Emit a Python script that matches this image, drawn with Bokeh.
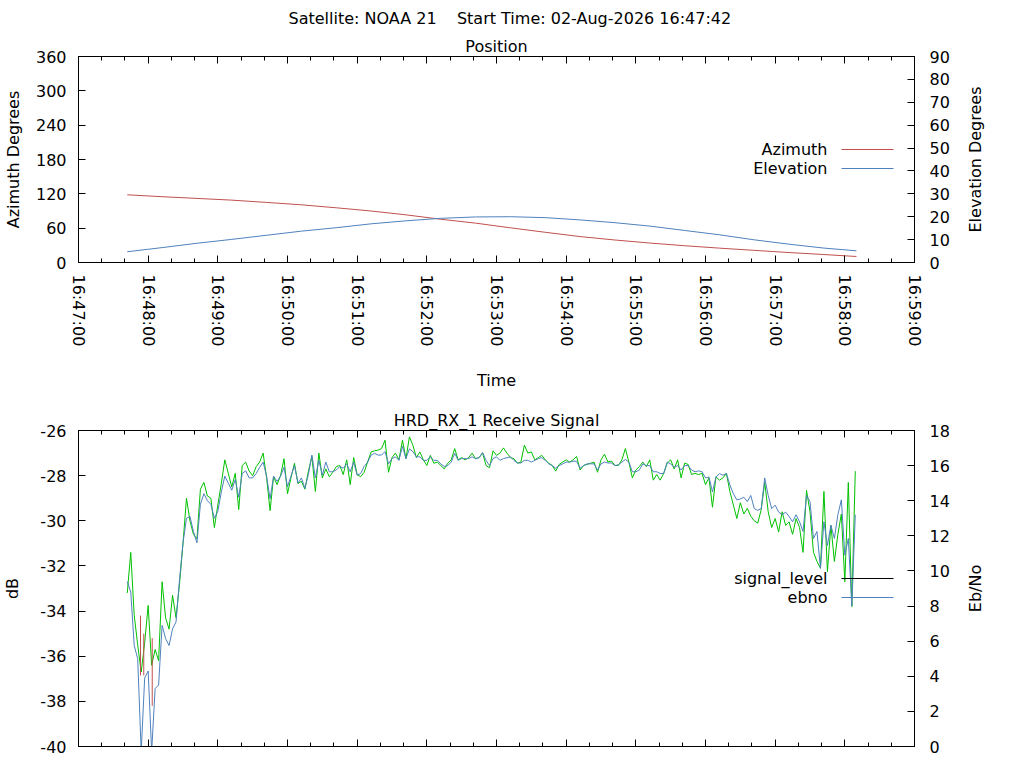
import math
import numpy as np
import pandas as pd
from bokeh.plotting import figure
from bokeh.models import (Range1d, LinearAxis, DatetimeAxis, FixedTicker, Title, Label, Arrow,
                          CustomJSTickFormatter, DatetimeTickFormatter, ColumnDataSource)
from bokeh.layouts import column, row
from bokeh.embed import file_html
from bokeh.resources import INLINE

# ---------------- data ----------------
DAY = "2026-08-02"
main_title = "Satellite: NOAA 21\u00a0\u00a0\u00a0\u00a0Start Time: 02-Aug-2026 16:47:42"
pos_title = "Position"
sig_title = "HRD_RX_1 Receive Signal"

axis_start = "16:47:00"
axis_end = "16:59:00"
tick_labels = ["16:47:00", "16:48:00", "16:49:00", "16:50:00", "16:51:00", "16:52:00", "16:53:00",
               "16:54:00", "16:55:00", "16:56:00", "16:57:00", "16:58:00", "16:59:00"]

az_ticks = [0, 60, 120, 180, 240, 300, 360]
el_ticks = [0, 10, 20, 30, 40, 50, 60, 70, 80, 90]
db_ticks = [-40, -38, -36, -34, -32, -30, -28, -26]
ebno_ticks = [0, 2, 4, 6, 8, 10, 12, 14, 16, 18]

pos_times = ["16:47:42", "16:48:12", "16:48:42", "16:49:12", "16:49:42", "16:50:12", "16:50:42",
             "16:51:12", "16:51:42", "16:52:12", "16:52:42", "16:53:12", "16:53:42", "16:54:12",
             "16:54:42", "16:55:12", "16:55:42", "16:56:12", "16:56:42", "16:57:12", "16:57:42",
             "16:58:10"]
azimuth = [118.3, 115.0, 112.0, 109.0, 105.0, 100.8, 95.6, 90.0, 83.3, 75.6, 68.8, 60.6,
           52.8, 45.3, 39.3, 34.0, 29.3, 25.1, 21.2, 17.4, 13.9, 10.5]
elevation = [4.7, 6.5, 8.4, 10.1, 11.9, 13.7, 15.2, 16.9, 18.2, 19.3, 19.9, 20.0,
             19.6, 18.6, 17.4, 15.9, 14.0, 12.1, 9.9, 8.0, 6.3, 5.1]

signal_start = "16:47:42"
signal_step_s = 3
signal_level = [
    -33.2, -31.4, -34.2, -35.5, -36.7, -35.4, -33.75, -36.4, -35.7, -36.2,
    -32.7, -34.3, -34.8, -33.3, -34.3, -32.8, -31.0, -29.0, -30.0, -30.6,
    -30.8, -28.6, -28.3, -28.9, -29.0, -30.3, -29.3, -28.35, -27.3, -27.9,
    -28.5, -27.9, -29.5, -27.55, -27.4, -27.8, -28.0, -27.6, -27.4, -27.0,
    -28.1, -29.55, -28.05, -28.4, -28.0, -27.25, -28.8, -28.1, -27.45, -28.35,
    -28.25, -28.6, -27.8, -27.15, -28.7, -27.0, -28.1, -27.7, -28.05, -27.85,
    -27.6, -27.55, -27.95, -27.3, -28.4, -27.2, -27.95, -28.05, -27.85, -27.4,
    -26.95, -26.9, -26.87, -26.8, -26.43, -27.85, -27.2, -27.0, -27.3, -26.43,
    -27.25, -26.28, -26.65, -27.2, -26.95, -27.3, -27.55, -27.1, -27.45, -27.4,
    -27.55, -27.7, -27.45, -27.3, -26.8, -27.3, -27.2, -27.3, -27.2, -27.0,
    -27.25, -27.2, -27.0, -27.55, -27.65, -26.9, -27.1, -27.0, -26.77, -27.0,
    -27.2, -27.25, -27.45, -27.4, -26.65, -27.0, -26.95, -27.3, -27.2, -27.1,
    -27.3, -27.45, -27.55, -27.8, -27.5, -27.4, -27.3, -27.4, -27.3, -27.15,
    -27.75, -27.55, -27.5, -27.45, -27.4, -27.85, -27.3, -27.05, -27.4, -27.35,
    -27.55, -27.55, -27.3, -26.8, -27.4, -28.1, -27.75, -27.6, -27.4, -27.6,
    -27.3, -28.2, -27.95, -28.2, -27.9, -27.45, -27.3, -27.7, -27.3, -28.1,
    -27.45, -27.5, -27.95, -27.9, -27.95, -27.9, -28.4, -28.1, -29.4, -28.05,
    -28.2, -28.1, -27.9, -28.7, -29.3, -29.9, -29.2, -29.7, -29.45, -29.8,
    -30.0, -30.1, -29.5, -28.3, -29.6, -30.3, -29.9, -30.5, -29.6, -30.2,
    -30.05, -30.6, -29.9, -30.3, -31.4, -28.65, -29.6, -31.4, -31.8, -32.1,
    -28.7, -32.25, -30.2, -31.8, -30.6, -29.7, -32.7, -28.3, -33.8, -27.8,
]
ebno = [
    9.4, 8.8, 5.75, 5.0, -0.3, 3.9, 4.3, -0.3, 3.3, 3.5,
    6.9, 6.15, 5.75, 6.7, 7.1, 9.5, 11.6, 13.0, 13.1, 12.25,
    11.6, 13.8, 14.4, 14.0, 13.8, 13.0, 13.4, 14.5, 15.4, 15.0,
    14.6, 15.2, 14.2, 15.55, 15.7, 15.3, 15.3, 15.55, 15.9, 16.2,
    15.4, 14.1, 15.4, 15.1, 15.4, 15.9, 14.8, 15.4, 16.0, 15.0,
    15.3, 14.7, 15.5, 16.6, 15.3, 16.3, 15.45, 16.2, 15.65, 15.65,
    15.75, 15.95, 15.85, 16.1, 15.65, 16.2, 15.45, 15.55, 15.95, 16.2,
    16.6, 16.7, 16.6, 16.6, 16.8, 16.1, 16.4, 16.5, 16.3, 17.1,
    16.4, 16.95, 16.8, 16.5, 16.5, 16.3, 16.3, 16.5, 16.3, 16.3,
    16.1, 15.95, 16.0, 16.2, 16.7, 16.3, 16.4, 16.4, 16.4, 16.5,
    16.4, 16.45, 16.75, 16.3, 16.0, 16.4, 16.5, 16.3, 16.4, 16.45,
    16.5, 16.3, 16.15, 16.15, 16.3, 16.3, 16.2, 16.3, 16.4, 16.45,
    16.3, 16.1, 16.0, 15.85, 16.0, 16.1, 16.2, 16.2, 16.25, 16.25,
    15.85, 16.0, 16.1, 16.1, 16.1, 15.75, 16.1, 16.2, 16.15, 16.15,
    16.0, 16.05, 16.2, 16.35, 16.2, 15.65, 15.65, 15.75, 16.1, 16.0,
    16.0, 15.65, 15.65, 15.55, 15.55, 16.2, 16.1, 15.9, 16.0, 15.75,
    16.0, 16.0, 15.75, 15.65, 15.7, 15.65, 15.3, 15.35, 14.5, 15.35,
    15.55, 15.45, 15.55, 14.9, 14.4, 14.05, 14.1, 14.2, 13.95, 14.3,
    13.55, 13.45, 13.55, 15.3, 14.3, 13.55, 13.75, 13.35, 13.2, 13.35,
    13.1, 12.8, 13.2, 12.8, 12.25, 14.3, 13.95, 11.85, 12.25, 10.15,
    12.8, 11.45, 12.6, 11.85, 13.2, 14.05, 10.9, 11.85, 8.0, 13.2,
]
# short red strokes of the signal level in the fade
red_times = ["16:47:53.4", "16:47:56.2", "16:48:03.5"]
red_low = [-36.85, -36.85, -38.2]
red_high = [-34.2, -35.0, -35.2]

# ---------------- styling ----------------
FONT = "DejaVu Sans"
FS = "16px"
RED = "#C0504D"
BLUE = "#4F81BD"
GREEN = "#00C000"
FRAME_W = 836
BORDER_L = 78
BORDER_R = 48


def ts(t):
    return pd.Timestamp(f"{DAY} {t}")


def ms(t):
    return ts(t).value / 1e6


t0, t1 = ts(axis_start), ts(axis_end)
major_ms = [ms(t) for t in tick_labels]
minor_ms = [d.value / 1e6 for d in pd.date_range(t0, t1, freq="20s")]

fmt = "%H:%M:%S"
time_fmt = DatetimeTickFormatter(microseconds=fmt, milliseconds=fmt, seconds=fmt, minsec=fmt,
                                 minutes=fmt, hourmin=fmt, hours=fmt, days=fmt, months=fmt, years=fmt)
blank = CustomJSTickFormatter(code="return ''")
plain = CustomJSTickFormatter(code="return tick.toString()")


def style_axis(ax, tick_standoff=12, label=None, label_standoff=10):
    ax.major_tick_in = 7
    ax.major_tick_out = 0
    ax.minor_tick_in = 4
    ax.minor_tick_out = 0
    ax.major_tick_line_color = "black"
    ax.minor_tick_line_color = "black"
    ax.axis_line_color = "black"
    ax.major_label_text_font = FONT
    ax.major_label_text_font_size = FS
    ax.major_label_text_color = "black"
    ax.major_label_standoff = tick_standoff
    if label is not None:
        ax.axis_label = label
        ax.axis_label_text_font = FONT
        ax.axis_label_text_font_size = FS
        ax.axis_label_text_font_style = "normal"
        ax.axis_label_text_color = "black"
        ax.axis_label_standoff = label_standoff


def make_title(s, standoff, align="center", offset=0):
    return Title(text=s, align=align, offset=offset, text_font=FONT, text_font_size=FS,
                 text_font_style="normal", text_color="black", standoff=standoff)


def legend_entry(p, s, color, y):
    p.add_layout(Label(x=749, y=y, x_units="screen", y_units="screen", text=s,
                       text_align="right", text_baseline="middle", text_font=FONT,
                       text_font_size=FS, text_color="black"))
    p.add_layout(Arrow(start=None, end=None, x_start=763, y_start=y, x_end=815, y_end=y,
                       start_units="screen", end_units="screen", line_color=color, line_width=1))


def base_fig(y0, y1, fh, top, bottom):
    p = figure(x_axis_type="datetime", frame_width=FRAME_W, frame_height=fh,
               x_range=Range1d(t0, t1), y_range=Range1d(y0, y1),
               min_border_left=BORDER_L, min_border_right=BORDER_R,
               min_border_top=top, min_border_bottom=bottom,
               output_backend="svg", toolbar_location=None)
    p.xgrid.visible = False
    p.ygrid.visible = False
    p.outline_line_color = "black"
    p.outline_line_width = 1
    p.background_fill_color = "white"
    p.border_fill_color = "white"
    return p


def side_label(s, fh, top, bottom):
    """Right-hand axis title, reading bottom-to-top like the left one."""
    q = figure(frame_width=1, frame_height=fh, x_range=Range1d(0, 1), y_range=Range1d(0, 1),
               x_axis_location=None, min_border_left=0, min_border_right=0,
               min_border_top=top, min_border_bottom=bottom,
               output_backend="svg", toolbar_location=None)
    q.xgrid.visible = False
    q.ygrid.visible = False
    q.outline_line_color = None
    q.background_fill_color = None
    q.border_fill_color = "white"
    ax = q.yaxis[0]
    ax.ticker = FixedTicker(ticks=[])
    ax.formatter = blank
    ax.major_tick_in = 0
    ax.major_tick_out = 0
    ax.minor_tick_in = 0
    ax.minor_tick_out = 0
    ax.major_label_standoff = 0
    ax.axis_line_color = None
    ax.axis_label = s
    ax.axis_label_text_font = FONT
    ax.axis_label_text_font_size = FS
    ax.axis_label_text_font_style = "normal"
    ax.axis_label_text_color = "black"
    ax.axis_label_standoff = 0
    return q


def frame_axes(p, right_range, right_ticks, left_ticks, bottom_fmt, left_label,
               left_label_standoff, x_label=None):
    xa = p.xaxis[0]
    xa.ticker = FixedTicker(ticks=major_ms, minor_ticks=minor_ms)
    xa.formatter = bottom_fmt
    if x_label is None:
        style_axis(xa, tick_standoff=0)
    else:
        style_axis(xa, tick_standoff=12, label=x_label, label_standoff=22)

    ya = p.yaxis[0]
    ya.ticker = FixedTicker(ticks=left_ticks)
    ya.formatter = plain
    style_axis(ya, tick_standoff=12, label=left_label, label_standoff=left_label_standoff)

    ra = LinearAxis(y_range_name=right_range, ticker=FixedTicker(ticks=right_ticks), formatter=plain)
    style_axis(ra, tick_standoff=15)
    p.add_layout(ra, "right")

    ta = DatetimeAxis(ticker=FixedTicker(ticks=major_ms, minor_ticks=minor_ms), formatter=blank)
    style_axis(ta, tick_standoff=0)
    p.add_layout(ta, "above")
    return xa


# ---------------- position plot ----------------
H1 = 206
p1 = base_fig(0, 360, H1, 56, 136)
p1.extra_y_ranges = {"el": Range1d(0, 90)}
xa = frame_axes(p1, "el", el_ticks, az_ticks, time_fmt, "Azimuth Degrees", 10, x_label="Time")
xa.major_label_orientation = -math.pi / 2
p1.add_layout(make_title(pos_title, 2), "above")
p1.add_layout(make_title(main_title, 11, align="left", offset=210), "above")

pos_src = ColumnDataSource(dict(t=[ts(t) for t in pos_times], az=azimuth, el=elevation))
p1.line("t", "az", source=pos_src, line_color=RED, line_width=1)
p1.line("t", "el", source=pos_src, y_range_name="el", line_color=BLUE, line_width=1)
legend_entry(p1, "Azimuth", RED, 113)
legend_entry(p1, "Elevation", BLUE, 94)
s1 = side_label("Elevation Degrees", H1, 56, 136)

# ---------------- signal plot ----------------
H2 = 316
p2 = base_fig(-40, -26, H2, 32, 10)
p2.extra_y_ranges = {"ebno": Range1d(0, 18)}
frame_axes(p2, "ebno", ebno_ticks, db_ticks, blank, "dB", 15)
p2.add_layout(make_title(sig_title, 2), "above")

n = len(signal_level)
sig_t = ts(signal_start) + pd.to_timedelta(np.arange(n) * signal_step_s, unit="s")
sig_src = ColumnDataSource(dict(t=sig_t, lvl=signal_level, eb=ebno[:n]))
p2.line("t", "lvl", source=sig_src, line_color=GREEN, line_width=1)
red_src = ColumnDataSource(dict(t=[ts(t) for t in red_times], lo=red_low, hi=red_high))
p2.segment(x0="t", y0="lo", x1="t", y1="hi", source=red_src, line_color=RED, line_width=1)
p2.line("t", "eb", source=sig_src, y_range_name="ebno", line_color=BLUE, line_width=1)
legend_entry(p2, "signal_level", "black", 168)
legend_entry(p2, "ebno", BLUE, 149)
s2 = side_label("Eb/No", H2, 32, 10)

layout = column(row(p1, s1), row(p2, s2))
open("out.html", "w").write(file_html(layout, INLINE))
